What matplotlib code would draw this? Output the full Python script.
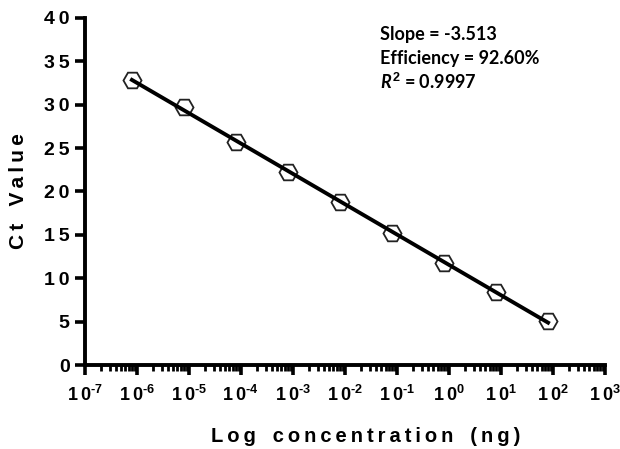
import numpy as np
import matplotlib
matplotlib.use('Agg')
import matplotlib.pyplot as plt
from matplotlib.ticker import FixedLocator, LogLocator, NullFormatter, FuncFormatter

plt.rcParams['font.family'] = ['Liberation Sans', 'DejaVu Sans']
plt.rcParams['font.weight'] = 'bold'
plt.rcParams['mathtext.fontset'] = 'custom'
plt.rcParams['mathtext.rm'] = 'Liberation Sans:bold'
plt.rcParams['mathtext.it'] = 'Lato:italic:bold'

# standard curve data
conc = [8e-7, 8e-6, 8e-5, 8e-4, 8e-3, 8e-2, 8e-1, 8, 80]
ct = [32.85, 29.7, 25.7, 22.3, 18.8, 15.2, 11.8, 8.4, 5.1]
y_ticks = [0, 5, 10, 15, 20, 25, 30, 35, 40]
x_exps = [-7, -6, -5, -4, -3, -2, -1, 0, 1, 2, 3]

# linear fit on log scale
logc = np.log10(conc)
coef = np.polyfit(logc, ct, 1)
fit = np.poly1d(coef)


def spaced(s, gap='\u2009'):
    return gap.join(s)


def xfmt(v, pos):
    e = int(round(np.log10(v)))
    return '1\u20090$^{\\text{%d}}$' % e


fig = plt.figure(figsize=(6.2, 4.49), dpi=100)
ax = fig.add_axes([0.137, 0.187, 0.839, 0.773])

ax.plot(conc, ct, 'H', markersize=13, markerfacecolor='white',
        markeredgecolor='#222222', markeredgewidth=1.3, zorder=2, clip_on=False)
ax.plot([conc[0], conc[-1]], fit(np.log10([conc[0], conc[-1]])), '-',
        color='black', linewidth=2.8, zorder=3)

ax.set_xscale('log')
ax.set_xlim(1e-7, 1e3)
ax.set_ylim(0, 40)

for s in ['top', 'right']:
    ax.spines[s].set_visible(False)
for s in ['left', 'bottom']:
    ax.spines[s].set_linewidth(2.8)

ax.yaxis.set_major_locator(FixedLocator(y_ticks))
ax.set_yticklabels([spaced(str(v)) for v in y_ticks], fontsize=14, fontweight='bold')

ax.xaxis.set_major_locator(FixedLocator([10.0 ** e for e in x_exps]))
ax.xaxis.set_major_formatter(FuncFormatter(xfmt))
ax.xaxis.set_minor_locator(LogLocator(base=10, subs=np.arange(2, 10), numticks=20))
ax.xaxis.set_minor_formatter(NullFormatter())
for lab in ax.get_xticklabels():
    lab.set_fontsize(13)
    lab.set_fontweight('bold')

ax.tick_params(axis='both', which='major', direction='out', length=7, width=2.6, pad=4)
ax.tick_params(axis='x', which='minor', direction='out', length=4.5, width=2.0)
ax.tick_params(axis='x', which='major', pad=7)

ax.set_xlabel(spaced('Log') + '   ' + spaced('concentration') + '   ' + spaced('(ng)'),
              fontsize=14.5, fontweight='bold')
ax.xaxis.set_label_coords(0.54, -0.178)
ax.set_ylabel(spaced('Ct') + '   ' + spaced('Value'), fontsize=15, fontweight='bold')
ax.yaxis.set_label_coords(-0.11, 0.5)

ax.text(0.568, 0.951, 'Slope = -3.513', transform=ax.transAxes, fontsize=13,
        family='Lato', fontweight='bold', va='center')
ax.text(0.568, 0.882, 'Efficiency = 92.60%', transform=ax.transAxes, fontsize=13,
        family='Lato', fontweight='bold', va='center')
ax.text(0.568, 0.816, r'$R^{\mathrm{2}}$ = 0.9997', transform=ax.transAxes, fontsize=13,
        family='Lato', fontweight='bold', va='center')

plt.savefig('out.png', dpi=100)
